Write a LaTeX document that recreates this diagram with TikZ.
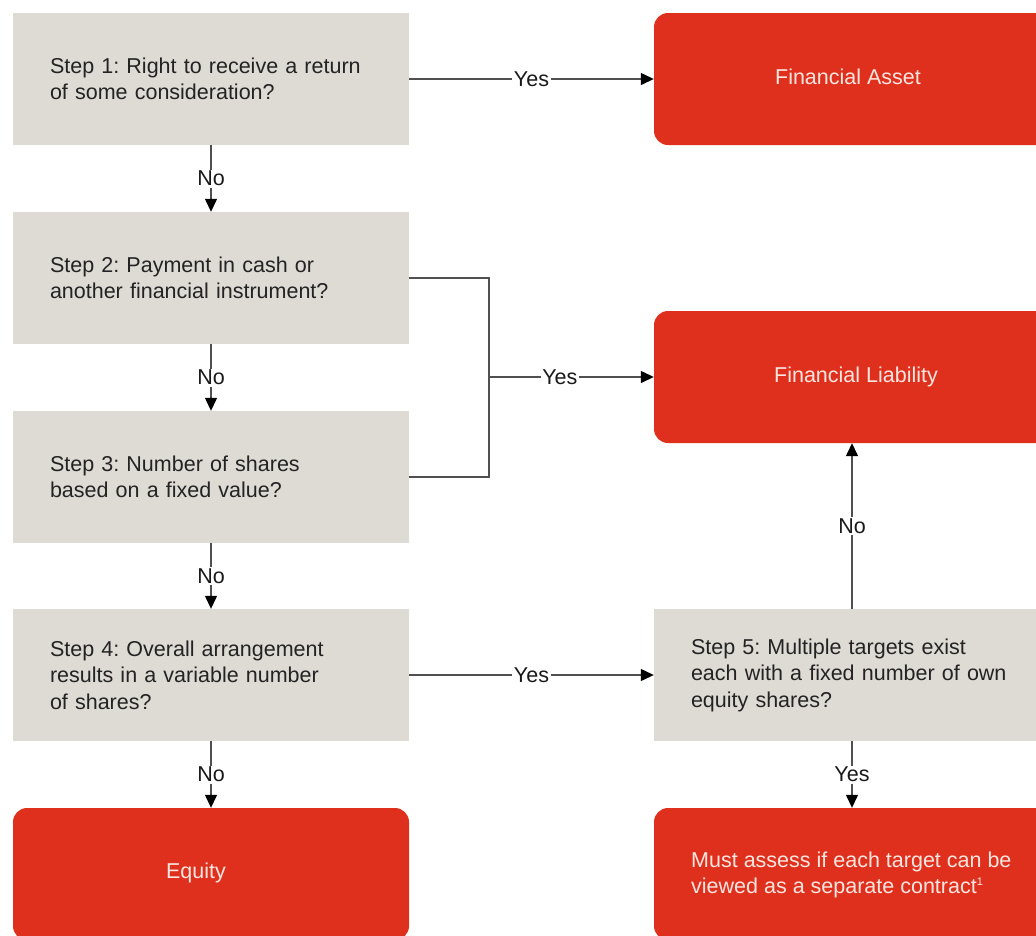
\documentclass[tikz,border=0pt]{standalone}
\usepackage{fontspec}
\setmainfont{Liberation Sans}
\usetikzlibrary{arrows.meta}
\definecolor{boxgrey}{RGB}{222,219,212}
\definecolor{pwcred}{RGB}{223,48,30}
\definecolor{redtext}{RGB}{252,230,224}
\definecolor{linegrey}{RGB}{80,80,80}
\definecolor{steptext}{RGB}{35,35,35}
\frenchspacing
\begin{document}
\begin{tikzpicture}[x=1pt,y=-1pt,
  txt/.style={font=\fontsize{21.5}{26.5}\selectfont},
  stepbox/.style={txt, fill=boxgrey, minimum width=396pt, minimum height=132pt,
    text width=322pt, align=left, inner xsep=0pt, text=steptext},
  redbox/.style={txt, fill=pwcred, rounded corners=14pt, minimum width=396pt,
    minimum height=132pt, align=left, text=redtext},
  redlabel/.style={txt, text=redtext, inner sep=0pt},
  conn/.style={draw=linegrey, line width=1.3pt,
    -{Triangle[length=13pt,width=12pt,color=black]}},
  plainline/.style={draw=linegrey, line width=1.3pt},
  lbl/.style={txt, fill=white, inner sep=1.5pt, text=black!90}
]
\useasboundingbox (0,0) rectangle (1036,935);
\clip (0,0) rectangle (1036,935);

% left column
\node[stepbox] (s1) at (211,79) {Step 1: Right to receive a return\\of some consideration?};
\node[stepbox] (s2) at (211,278) {Step 2: Payment in cash or\\another financial instrument?};
\node[stepbox] (s3) at (211,477) {Step 3: Number of shares\\based on a fixed value?};
\node[stepbox] (s4) at (211,675) {Step 4: Overall arrangement\\results in a variable number\\of shares?};
\node[redbox] (eq) at (211,874) {};
\node[redlabel] (eqtxt) at (196,873) {Equity};

% right column
\node[redbox] (fa) at (852,79) {};
\node[redlabel] (fatxt) at (848,77) {Financial Asset};
\node[redbox] (fl) at (852,377) {};
\node[redlabel] (fltxt) at (856,377) {Financial Liability};
\node[stepbox] (s5) at (852,675) {Step 5: Multiple targets exist\\each with a fixed number of own\\equity shares?};
\node[redbox] (ma) at (852,874) {};
\node[redlabel, align=left, anchor=west] (matxt) at (691,875) {Must assess if each target can be\\viewed as a separate contract\raisebox{8pt}{\fontsize{11}{11}\selectfont 1}};

% connectors
\coordinate (j) at (489,377);
\draw[conn] (s1.east) -- node[lbl]{Yes} (fa.west);
\draw[conn] (s1.south) -- node[lbl]{No} (s2.north);
\draw[conn] (s2.south) -- node[lbl]{No} (s3.north);
\draw[conn] (s3.south) -- node[lbl]{No} (s4.north);
\draw[conn] (s4.south) -- node[lbl]{No} (eq.north);
\draw[plainline] (s2.east) -| (j) |- (s3.east);
\draw[conn] (j) -- node[lbl,pos=0.43]{Yes} (fl.west);
\draw[conn] (s4.east) -- node[lbl]{Yes} (s5.west);
\draw[conn] (s5.north) -- node[lbl]{No} (fl.south);
\draw[conn] (s5.south) -- node[lbl]{Yes} (ma.north);
\end{tikzpicture}
\end{document}
